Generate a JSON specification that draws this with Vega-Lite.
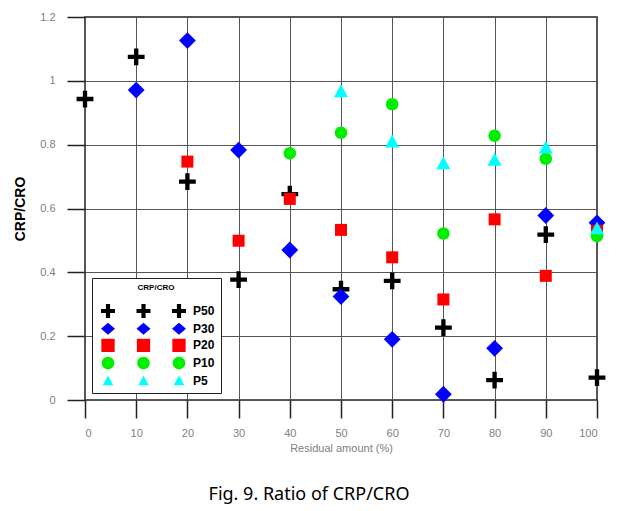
{
  "$schema": "https://vega.github.io/schema/vega-lite/v6.json",
  "width": 512,
  "height": 383,
  "autosize": {"type": "none"},
  "padding": {"left": 85, "top": 17, "right": 30, "bottom": 111},
  "background": "white",
  "title": {"text": "Fig. 9. Ratio of CRP/CRO", "orient": "bottom", "anchor": "middle", "font": "Noto Sans", "fontSize": 18, "fontWeight": "normal", "color": "#000000", "offset": 33, "dx": -32},
  "data": {"values": [
    {"x": 0, "y": 0.943, "s": "P50"}, {"x": 10, "y": 1.075, "s": "P50"}, {"x": 20, "y": 0.684, "s": "P50"}, {"x": 30, "y": 0.377, "s": "P50"}, {"x": 40, "y": 0.645, "s": "P50"}, {"x": 50, "y": 0.347, "s": "P50"}, {"x": 60, "y": 0.373, "s": "P50"}, {"x": 70, "y": 0.227, "s": "P50"}, {"x": 80, "y": 0.062, "s": "P50"}, {"x": 90, "y": 0.518, "s": "P50"}, {"x": 100, "y": 0.07, "s": "P50"},
    {"x": 10, "y": 0.971, "s": "P30"}, {"x": 20, "y": 1.126, "s": "P30"}, {"x": 30, "y": 0.783, "s": "P30"}, {"x": 40, "y": 0.47, "s": "P30"}, {"x": 50, "y": 0.324, "s": "P30"}, {"x": 60, "y": 0.19, "s": "P30"}, {"x": 70, "y": 0.018, "s": "P30"}, {"x": 80, "y": 0.162, "s": "P30"}, {"x": 90, "y": 0.578, "s": "P30"}, {"x": 100, "y": 0.555, "s": "P30"},
    {"x": 20, "y": 0.747, "s": "P20"}, {"x": 30, "y": 0.499, "s": "P20"}, {"x": 40, "y": 0.63, "s": "P20"}, {"x": 50, "y": 0.533, "s": "P20"}, {"x": 60, "y": 0.447, "s": "P20"}, {"x": 70, "y": 0.315, "s": "P20"}, {"x": 80, "y": 0.566, "s": "P20"}, {"x": 90, "y": 0.389, "s": "P20"}, {"x": 100, "y": 0.53, "s": "P20"},
    {"x": 40, "y": 0.773, "s": "P10"}, {"x": 50, "y": 0.837, "s": "P10"}, {"x": 60, "y": 0.927, "s": "P10"}, {"x": 70, "y": 0.522, "s": "P10"}, {"x": 80, "y": 0.828, "s": "P10"}, {"x": 90, "y": 0.756, "s": "P10"}, {"x": 100, "y": 0.514, "s": "P10"},
    {"x": 50, "y": 0.967, "s": "P5"}, {"x": 60, "y": 0.809, "s": "P5"}, {"x": 70, "y": 0.741, "s": "P5"}, {"x": 80, "y": 0.752, "s": "P5"}, {"x": 90, "y": 0.79, "s": "P5"}, {"x": 100, "y": 0.537, "s": "P5"}
  ]},
  "encoding": {
    "x": {
      "field": "x", "type": "quantitative",
      "scale": {"domain": [0, 100], "nice": false, "zero": false},
      "axis": {"values": [0, 10, 20, 30, 40, 50, 60, 70, 80, 90, 100], "title": "Residual amount (%)", "ticks": true, "tickSize": 18, "tickColor": "#222222", "tickWidth": 1.5, "labelPadding": 9, "titlePadding": 4, "grid": true, "domain": false, "labelFont": "Liberation Sans", "labelFontSize": 11, "labelColor": "#808080", "titleFont": "Liberation Sans", "titleFontSize": 11, "titleFontWeight": "normal", "titleColor": "#808080"}
    },
    "y": {
      "field": "y", "type": "quantitative",
      "scale": {"domain": [0, 1.2], "nice": false, "zero": false},
      "axis": {"values": [0, 0.2, 0.4, 0.6, 0.8, 1, 1.2], "format": ".2~f", "title": "CRP/CRO", "ticks": true, "tickSize": 18, "tickColor": "#222222", "tickWidth": 1.5, "labelPadding": 12, "labelAlign": "right", "labelBaseline": "middle", "titlePadding": 12, "grid": true, "domain": false, "labelFont": "Liberation Sans", "labelFontSize": 11, "labelColor": "#808080", "titleFont": "Liberation Sans", "titleFontSize": 14, "titleFontWeight": "bold", "titleColor": "#000000"}
    }
  },
  "layer": [
    {
      "mark": {"type": "point", "filled": true, "size": 256, "opacity": 1, "strokeWidth": 0},
      "encoding": {
        "color": {
          "field": "s", "type": "nominal",
          "scale": {"domain": ["P50", "P30", "P20", "P10", "P5"], "range": ["#000000", "#0000ff", "#ff0000", "#00ee00", "#00ffff"]},
          "legend": null
        },
        "shape": {
          "field": "s", "type": "nominal",
          "scale": {"domain": ["P50", "P30", "P20", "P10", "P5"], "range": ["M-1.05,-0.27H-0.27V-1.05H0.27V-0.27H1.05V0.27H0.27V1.05H-0.27V0.27H-1.05Z", "M0,-1.05L1.05,0L0,1.05L-1.05,0Z", "M-0.75,-0.75H0.75V0.75H-0.75Z", "M-0.78,0A0.78,0.78 0 1,0 0.78,0A0.78,0.78 0 1,0 -0.78,0Z", "M0,-0.9L0.88,0.72L-0.88,0.72Z"]},
          "legend": null
        }
      }
    },
    {
      "mark": {"type": "point", "filled": true, "size": 0, "strokeWidth": 0},
      "encoding": {
        "color": {
          "field": "s", "type": "nominal",
          "scale": {"domain": ["P50", "P30", "P20", "P10", "P5"], "range": ["#000000", "#0000ff", "#ff0000", "#00ee00", "#00ffff"]},
          "legend": {
            "orient": "none", "legendX": 7, "legendY": 261,
            "title": "CRP/CRO", "titleFont": "Liberation Sans", "titleFontSize": 8, "titleFontWeight": "bold", "titleColor": "#000000", "titleAnchor": "middle", "titlePadding": 12,
            "padding": 6, "strokeColor": "#222222", "fillColor": "white",
            "symbolSize": 196, "symbolStrokeWidth": 0, "symbolOpacity": 1, "labelOffset": 81, "labelFont": "Liberation Sans", "labelFontSize": 12, "labelFontWeight": "bold", "labelColor": "#000000", "rowPadding": 3.7
          }
        },
        "shape": {
          "field": "s", "type": "nominal",
          "scale": {"domain": ["P50", "P30", "P20", "P10", "P5"], "range": [
            "M-0.57,-0.3H0.13V-1H0.73V-0.3H1.43V0.3H0.73V1H0.13V0.3H-0.57Z M4.5,-0.3H5.2V-1H5.8V-0.3H6.5V0.3H5.8V1H5.2V0.3H4.5Z M9.57,-0.3H10.27V-1H10.87V-0.3H11.57V0.3H10.87V1H10.27V0.3H9.57Z",
            "M0.43,-0.85L1.43,0L0.43,0.85L-0.57,0Z M5.5,-0.85L6.5,0L5.5,0.85L4.5,0Z M10.57,-0.85L11.57,0L10.57,0.85L9.57,0Z",
            "M-0.52,-0.95H1.38V0.95H-0.52Z M4.55,-0.95H6.45V0.95H4.55Z M9.62,-0.95H11.52V0.95H9.62Z",
            "M-0.47,0A0.9,0.9 0 1,0 1.33,0A0.9,0.9 0 1,0 -0.47,0Z M4.6,0A0.9,0.9 0 1,0 6.4,0A0.9,0.9 0 1,0 4.6,0Z M9.67,0A0.9,0.9 0 1,0 11.47,0A0.9,0.9 0 1,0 9.67,0Z",
            "M0.43,-0.75L1.18,0.65L-0.32,0.65Z M5.5,-0.75L6.25,0.65L4.75,0.65Z M10.57,-0.75L11.32,0.65L9.82,0.65Z"
          ]},
          "legend": {
            "orient": "none", "legendX": 7, "legendY": 261,
            "title": "CRP/CRO", "titleFont": "Liberation Sans", "titleFontSize": 8, "titleFontWeight": "bold", "titleColor": "#000000", "titleAnchor": "middle", "titlePadding": 12,
            "padding": 6, "strokeColor": "#222222", "fillColor": "white",
            "symbolSize": 196, "symbolStrokeWidth": 0, "symbolOpacity": 1, "labelOffset": 81, "labelFont": "Liberation Sans", "labelFontSize": 12, "labelFontWeight": "bold", "labelColor": "#000000", "rowPadding": 3.7
          }
        }
      }
    }
  ],
  "resolve": {"scale": {"color": "independent", "shape": "independent"}},
  "config": {
    "view": {"stroke": "#222222", "strokeWidth": 1.5},
    "axis": {"gridColor": "#555555", "gridWidth": 1, "gridOpacity": 1},
    "axisY": {"tickSize": 18, "labelPadding": 12}
  }
}
